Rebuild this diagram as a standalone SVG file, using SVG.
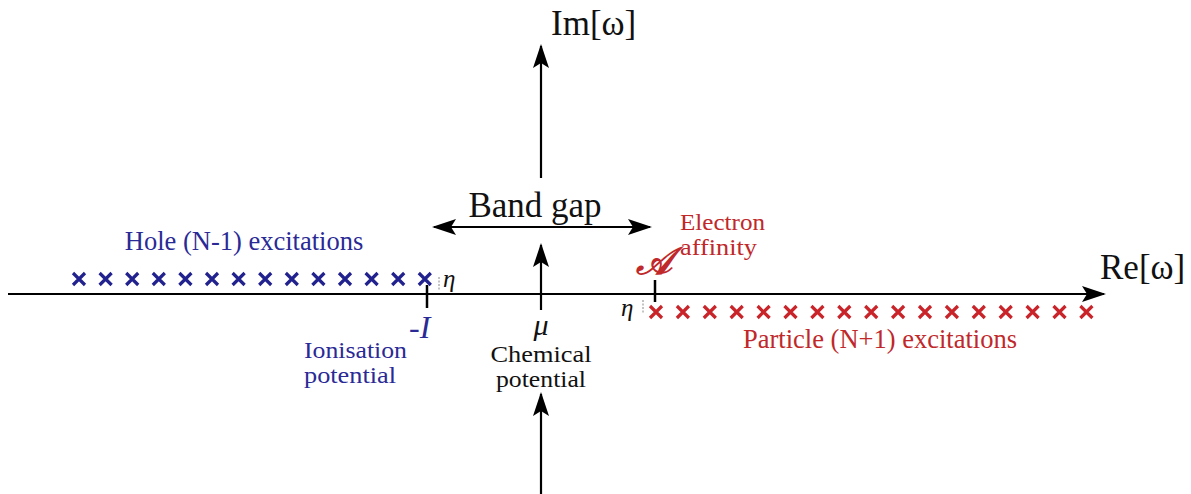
<svg xmlns="http://www.w3.org/2000/svg" width="1191" height="494" viewBox="0 0 1191 494">
<style>
.ax{stroke:#000;stroke-width:2.2;fill:none}
.tk{stroke:#000;stroke-width:2.5}
.t{font-family:"Liberation Serif",serif;fill:#111}
.b{fill:#2a2a96}
.r{fill:#c0282a}
.xb{stroke:#22228f;stroke-width:3.2}
.xr{stroke:#c8242a;stroke-width:3.2}
.dot{stroke:#888;stroke-width:1;stroke-dasharray:2 1.5}
</style>
<defs>
<marker id="ah" viewBox="0 0 24 16" refX="22" refY="8" markerWidth="24" markerHeight="16" markerUnits="userSpaceOnUse" orient="auto-start-reverse">
<path d="M0,0 L24,8 L0,16 L5,8 Z" fill="#000"/>
</marker>
<g id="xc"><path d="M-6,-6 L6,6 M-6,6 L6,-6"/></g>
</defs>
<g id="connectors">
<line class="ax" x1="8" y1="294" x2="1104" y2="294" marker-end="url(#ah)"/>
<line class="ax" x1="541" y1="178" x2="541" y2="46" marker-end="url(#ah)"/>
<line class="ax" x1="541" y1="310" x2="541" y2="245" marker-end="url(#ah)"/>
<line class="ax" x1="541" y1="494" x2="541" y2="394" marker-end="url(#ah)"/>
<line class="ax" x1="434" y1="227" x2="650" y2="227" marker-start="url(#ah)" marker-end="url(#ah)"/>
</g>
<g id="axis-labels">
<text class="t" x="551" y="35" font-size="35">Im[ω]</text>
<text class="t" x="1100" y="279" font-size="35">Re[ω]</text>
<text class="t" x="535" y="217" font-size="35" text-anchor="middle">Band gap</text>
</g>
<g id="hole">
<text class="t b" x="244" y="250" font-size="26.5" text-anchor="middle">Hole (N-1) excitations</text>
<g class="xb">
<use href="#xc" x="79" y="279"/><use href="#xc" x="105.6" y="279"/><use href="#xc" x="132.2" y="279"/><use href="#xc" x="158.8" y="279"/><use href="#xc" x="185.4" y="279"/><use href="#xc" x="212" y="279"/><use href="#xc" x="238.6" y="279"/><use href="#xc" x="265.2" y="279"/><use href="#xc" x="291.8" y="279"/><use href="#xc" x="318.4" y="279"/><use href="#xc" x="345" y="279"/><use href="#xc" x="371.6" y="279"/><use href="#xc" x="398.2" y="279"/><use href="#xc" x="424.8" y="279"/>
</g>
<line class="dot" x1="439" y1="277" x2="439" y2="291"/>
<text class="t" x="443" y="287" font-size="25" font-style="italic">η</text>
</g>
<g id="ionisation">
<line class="tk" x1="427" y1="285" x2="427" y2="308"/>
<text class="t b" x="409" y="338" font-size="32" font-style="italic">-I</text>
<text class="t b" x="304" y="358" font-size="23" textLength="103" lengthAdjust="spacingAndGlyphs">Ionisation</text>
<text class="t b" x="304" y="383" font-size="23" textLength="92" lengthAdjust="spacingAndGlyphs">potential</text>
</g>
<g id="chemical">
<text class="t" x="541" y="335" font-size="30" font-style="italic" text-anchor="middle">μ</text>
<text class="t" x="541" y="362" font-size="23" text-anchor="middle" textLength="101" lengthAdjust="spacingAndGlyphs">Chemical</text>
<text class="t" x="541" y="387" font-size="23" text-anchor="middle" textLength="90" lengthAdjust="spacingAndGlyphs">potential</text>
</g>
<g id="affinity">
<line class="tk" x1="655" y1="280" x2="655" y2="302"/>
<text class="t r" x="636" y="274" font-size="38" font-style="italic" font-weight="bold">𝒜</text>
<text class="t r" x="680" y="230" font-size="23" textLength="85" lengthAdjust="spacingAndGlyphs">Electron</text>
<text class="t r" x="680" y="255" font-size="23" textLength="77" lengthAdjust="spacingAndGlyphs">affinity</text>
</g>
<g id="particle">
<text class="t" x="621" y="316" font-size="25" font-style="italic">η</text>
<line class="dot" x1="643" y1="300" x2="643" y2="314"/>
<g class="xr">
<use href="#xc" x="656" y="312"/><use href="#xc" x="682.9" y="312"/><use href="#xc" x="709.8" y="312"/><use href="#xc" x="736.7" y="312"/><use href="#xc" x="763.6" y="312"/><use href="#xc" x="790.5" y="312"/><use href="#xc" x="817.4" y="312"/><use href="#xc" x="844.3" y="312"/><use href="#xc" x="871.2" y="312"/><use href="#xc" x="898.1" y="312"/><use href="#xc" x="925" y="312"/><use href="#xc" x="951.9" y="312"/><use href="#xc" x="978.8" y="312"/><use href="#xc" x="1005.7" y="312"/><use href="#xc" x="1032.6" y="312"/><use href="#xc" x="1059.5" y="312"/><use href="#xc" x="1086.4" y="312"/>
</g>
<text class="t r" x="743" y="348" font-size="26.5">Particle (N+1) excitations</text>
</g>
</svg>
